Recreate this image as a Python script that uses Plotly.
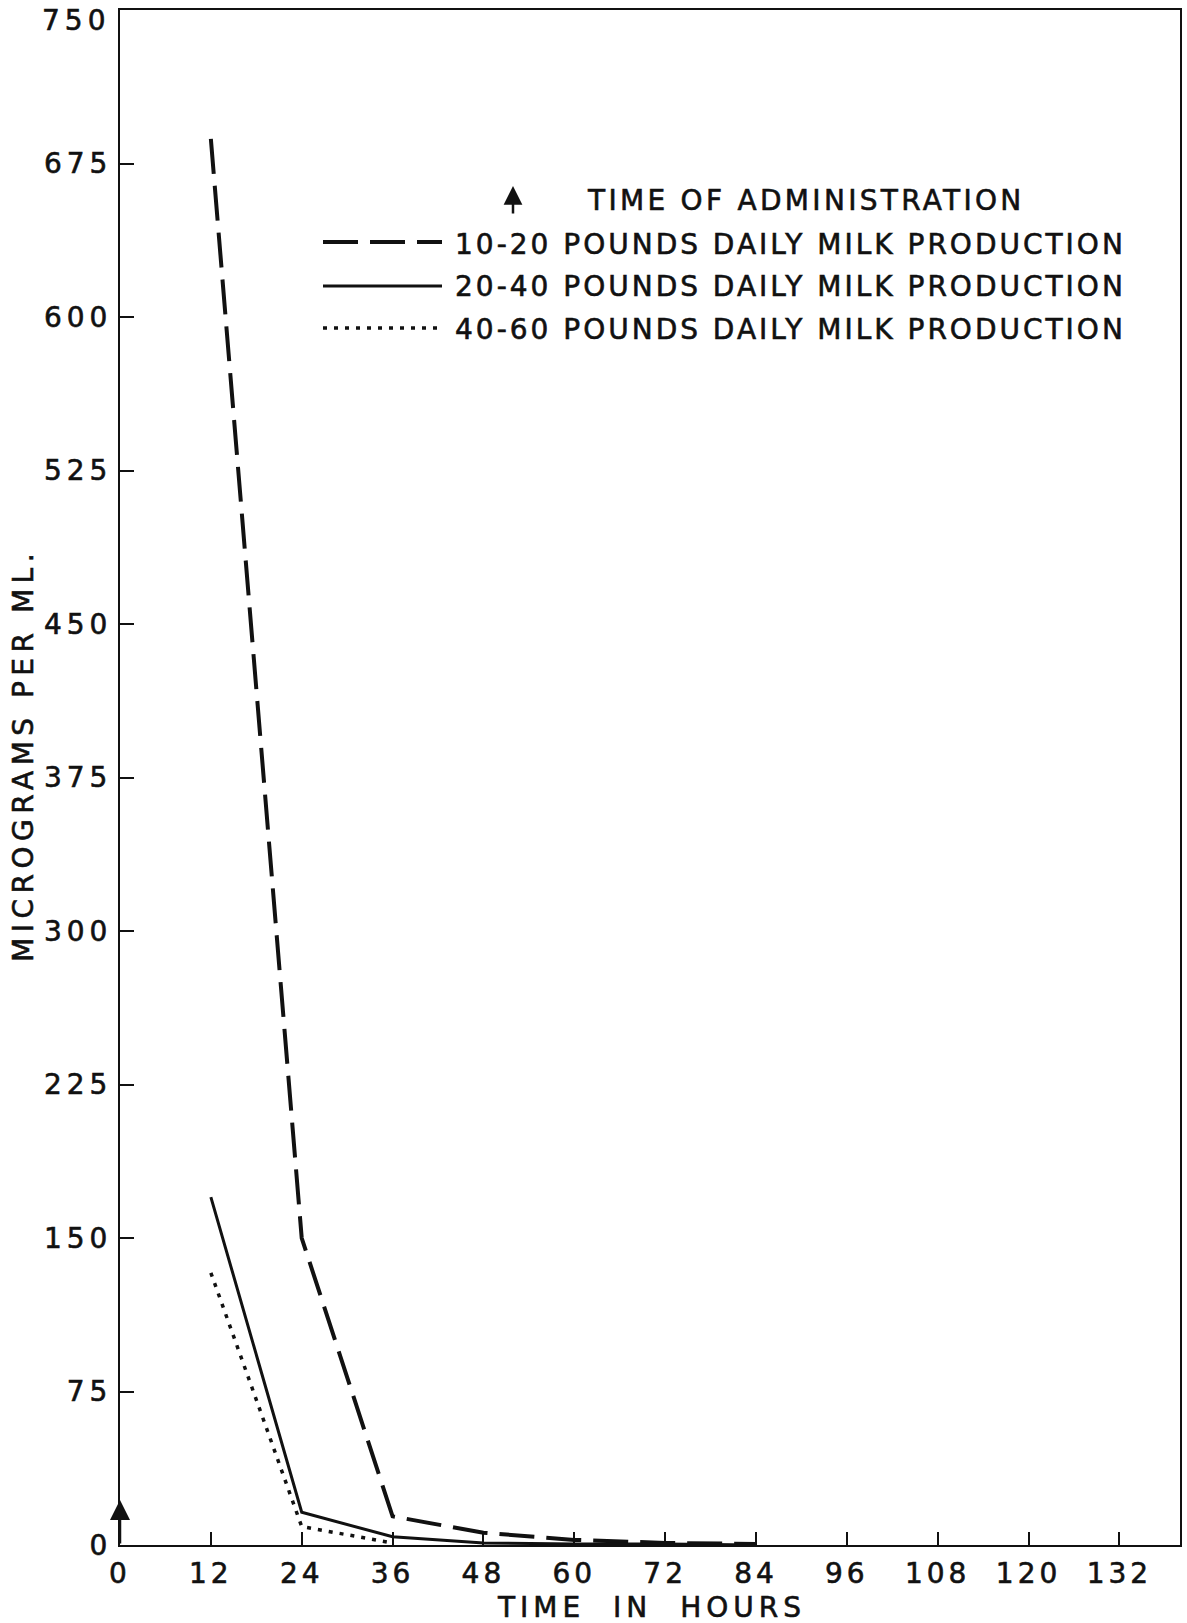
import plotly.graph_objects as go

# ---- data ----
hours_10_20 = [12, 24, 36, 48, 60, 72, 84]
ug_10_20 = [687, 150, 14, 6, 2.5, 1, 0.5]
hours_20_40 = [12, 24, 36, 48, 60, 72, 84]
ug_20_40 = [170, 16, 4, 1, 0.5, 0.5, 0]
hours_40_60 = [12, 24, 36]
ug_40_60 = [133, 9, 1]
series_labels = ["10-20 POUNDS DAILY MILK PRODUCTION",
                 "20-40 POUNDS DAILY MILK PRODUCTION",
                 "40-60 POUNDS DAILY MILK PRODUCTION"]
admin_label = "TIME OF ADMINISTRATION"
admin_time = 0
admin_arrow_top = 22
x_tickvals = [0, 12, 24, 36, 48, 60, 72, 84, 96, 108, 120, 132]
y_tickvals = [0, 75, 150, 225, 300, 375, 450, 525, 600, 675, 750]
x_title = "TIME IN HOURS"
y_title = "MICROGRAMS PER ML."

# ---- styling ----
W, H = 1187, 1623
L, R, T, B = 120, 1180, 10, 1545   # plot area in pixels
INK = "#111111"
FONT = "DejaVu Sans"
FS = 28
LS = 3.0
STROKE = "stroke:#111111;stroke-width:0.6px"


def px(xp):
    return (xp - L) / (R - L)


def py(yp):
    return (B - yp) / (B - T)


def spaced(s, ls=LS, ws=None):
    st = "letter-spacing:%spx;%s" % (ls, STROKE)
    if ws is not None:
        st += ";word-spacing:%spx" % ws
    return '<span style="%s">%s</span>' % (st, s)


styles = [
    dict(width=4, dash="35px,12px"),
    dict(width=3, dash="solid"),
    dict(width=3.5, dash="4px,7px"),
]

fig = go.Figure()
for xs, ys, st, name in zip([hours_10_20, hours_20_40, hours_40_60],
                            [ug_10_20, ug_20_40, ug_40_60], styles, series_labels):
    fig.add_trace(go.Scatter(x=xs, y=ys, mode="lines", name=name,
                             line=dict(color=INK, width=st["width"], dash=st["dash"]),
                             cliponaxis=False, showlegend=False))

fig.update_layout(
    width=W, height=H, autosize=False,
    margin=dict(l=L, r=W - R, t=T, b=H - B, pad=0, autoexpand=False),
    paper_bgcolor="white", plot_bgcolor="white",
    font=dict(family=FONT, size=FS, color=INK),
    showlegend=False,
)
fig.update_xaxes(
    range=[0, 140], tickvals=x_tickvals,
    ticktext=[spaced(str(v), 4) for v in x_tickvals],
    showgrid=False, zeroline=False, showline=True, linecolor=INK, linewidth=2,
    mirror=True, ticks="inside", ticklen=13, tickwidth=2, tickcolor=INK,
    ticklabelstandoff=2, ticklabeloverflow="allow", automargin=False,
)
y_top = y_tickvals[-1]
fig.update_yaxes(
    range=[0, y_top], tickvals=y_tickvals,
    # the top label sits just below the frame in the reference; drawn as an annotation
    ticktext=[spaced(str(v), 5) if v != y_top else "" for v in y_tickvals],
    showgrid=False, zeroline=False, showline=True, linecolor=INK, linewidth=2,
    mirror=True, ticks="inside", ticklen=14, tickwidth=2, tickcolor=INK,
    ticklabelstandoff=0, ticklabeloverflow="allow", automargin=False,
)

ann = []
ann.append(dict(text=spaced(str(y_top), 5), x=0, y=y_top, xref="paper", yref="y",
                showarrow=False, xanchor="right", yanchor="middle", xshift=-8, yshift=-10,
                font=dict(size=FS)))
# axis titles
ann.append(dict(text=spaced(x_title, 5, 14), x=px(651), y=py(1607), xref="paper", yref="paper",
                showarrow=False, xanchor="center", yanchor="middle", font=dict(size=FS)))
ann.append(dict(text=spaced(y_title, 5.5), x=px(23), y=py(755), xref="paper", yref="paper",
                showarrow=False, xanchor="center", yanchor="middle", textangle=-90,
                font=dict(size=FS)))
# time of administration arrow on the plot
ann.append(dict(text="", x=admin_time, y=admin_arrow_top, xref="x", yref="y",
                ax=admin_time, ay=0, axref="x", ayref="y", showarrow=True,
                arrowhead=2, arrowsize=1.6, arrowwidth=2.5, arrowcolor=INK))
# legend
ann.append(dict(text="", x=px(513), y=py(186), xref="paper", yref="paper",
                ax=0, ay=29, showarrow=True, arrowhead=2, arrowsize=1.5,
                arrowwidth=2.5, arrowcolor=INK))
ann.append(dict(text=spaced(admin_label, 3.3), x=px(585), y=py(200), xref="paper", yref="paper",
                showarrow=False, xanchor="left", yanchor="middle", font=dict(size=FS)))
leg_y_text = [244, 286, 329]
leg_y_line = [242, 286, 328]
for lab, yt, yl, st in zip(series_labels, leg_y_text, leg_y_line, styles):
    ann.append(dict(text=spaced(lab), x=px(453), y=py(yt), xref="paper", yref="paper",
                    showarrow=False, xanchor="left", yanchor="middle", font=dict(size=FS)))
    fig.add_shape(type="line", xref="paper", yref="paper", x0=px(323), x1=px(442),
                  y0=py(yl), y1=py(yl),
                  line=dict(color=INK, width=st["width"], dash=st["dash"]))
fig.update_layout(annotations=ann)

fig.write_html("out.html", config={"displayModeBar": False},
               post_script="document.body.style.margin='0';")
